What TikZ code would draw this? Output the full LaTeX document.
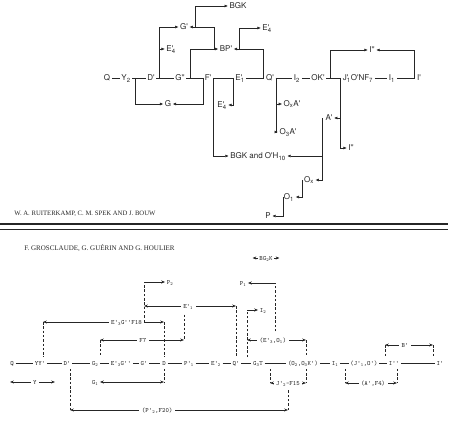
\documentclass[tikz,border=0pt]{standalone}
\usepackage{fontspec}
\usetikzlibrary{arrows.meta}
\newfontfamily\hsans{TeX Gyre Heros}
\newfontfamily\tms{Liberation Serif}
\newcommand{\pri}[2]{#1\rlap{'}\textsubscript{#2}}
\begin{document}
\begin{tikzpicture}[x=1pt,y=-1pt,line width=0.6pt,color=black!85,
  upnode/.style={font={\hsans\fontsize{8}{9}\selectfont},inner sep=1.5pt,text height=1.6ex,text depth=.3ex},
  lonode/.style={font={\ttfamily\fontsize{6.5}{7}\selectfont},inner sep=1.5pt,text height=1.6ex,text depth=.3ex},
  lbl/.style={lonode,fill=white,inner sep=2.5pt},
  uarrow/.style={-{Triangle[length=3.2pt,width=2.6pt]}},
  larrow/.style={-{Stealth[length=3.8pt,width=3pt]}},
  lboth/.style={{Stealth[length=3.8pt,width=3pt]}-{Stealth[length=3.8pt,width=3pt]}},
  dashv/.style={dash pattern=on 2.5pt off 1.8pt}]
\useasboundingbox (0,0) rectangle (450,422);

\node[upnode] (Q) at (107,78) {Q};
\node[upnode] (Y2) at (126,78) {Y\textsubscript{2}};
\node[upnode] (Dp) at (151,78) {D'};
\node[upnode] (Gpp) at (180,78) {G''};
\node[upnode] (Fp) at (208,78) {F'};
\node[upnode] (E1) at (240,78) {\pri{E}{1}};
\node[upnode] (Qp) at (270,78) {Q'};
\node[upnode] (I2) at (297,78) {I\textsubscript{2}};
\node[upnode] (OK) at (318,78) {OK'};
\node[upnode] (JO) at (358,78) {\pri{J}{1}O'NF\textsubscript{7}};
\node[upnode] (I1) at (392,78) {I\textsubscript{1}};
\node[upnode] (Ip) at (419,78) {I'};
\node[upnode] (BGK) at (238,6) {BGK};
\node[upnode] (Gp) at (184,27) {G'};
\node[upnode] (E4a) at (171,49) {\pri{E}{4}};
\node[upnode] (BP) at (226,49) {BP'};
\node[upnode] (E4b) at (267,28) {\pri{E}{4}};
\node[upnode] (G) at (168,104) {G};
\node[upnode] (E4c) at (222,105) {\pri{E}{4}};
\node[upnode] (Ia) at (372,50) {I''};
\node[upnode] (OxA) at (292,104) {O\textsubscript{x}A'};
\node[upnode] (O3A) at (288,132) {O\textsubscript{3}A'};
\node[upnode] (Ap) at (329,118) {A'};
\node[upnode] (Ib) at (351,148) {I''};
\node[upnode] (BGKO) at (258,156) {BGK and O'H\textsubscript{10}};
\node[upnode] (Ox) at (309,180) {O\textsubscript{x}};
\node[upnode] (O1) at (289,197) {O\textsubscript{1}};
\node[upnode] (P) at (268,216) {P};

\draw (Q) -- (Y2) -- (Dp) -- (Gpp) -- (Fp) -- (E1) -- (Qp) -- (I2) -- (OK) -- (JO) -- (I1) -- (Ip);
\coordinate (dj) at (159,78);
\coordinate (yj) at (135,78);
\coordinate (fj) at (203,78);
\coordinate (gj) at (190,78);
\coordinate (bj) at (214,49);
\coordinate (gk) at (195,27);
\coordinate (qj) at (263,78);
\coordinate (ej) at (239,49);
\coordinate (ek) at (233,78);
\coordinate (fk) at (213,78);
\coordinate (qk) at (276,78);
\coordinate (oj) at (330,78);
\coordinate (ij) at (414,78);
\coordinate (jj) at (340,78);
\coordinate (aj) at (322,118);
\coordinate (xj) at (302,180);
\coordinate (oi) at (283,197);
\draw[uarrow] (dj) |- (Gp);
\draw[uarrow] (dj |- E4a) -- (E4a);
\draw[uarrow] (yj) |- (G);
\draw[uarrow] (fj) |- (G);
\draw[uarrow] (gj) |- (BP);
\draw[uarrow] (bj) |- (Gp);
\draw[uarrow] (gk) |- (BGK);
\draw[uarrow] (qj) |- (BP);
\draw[uarrow] (ej) |- (E4b);
\draw[uarrow] (ek) |- (E4c);
\draw[uarrow] (fk) |- (BGKO);
\draw[uarrow] (qk) |- (O3A);
\draw[uarrow] (qk |- OxA) -- (OxA);
\draw[uarrow] (oj) |- (Ia);
\draw[uarrow] (ij) |- (Ia);
\draw[uarrow] (jj) |- (Ib);
\draw[uarrow] (jj |- Ap) -- (Ap);
\draw[uarrow] (aj) |- (Ox);
\draw[uarrow] (aj |- BGKO) -- (BGKO);
\draw[uarrow] (xj) |- (O1);
\draw[uarrow] (oi) |- (P);

\node[anchor=west,inner sep=0pt,font={\tms\fontsize{6.7}{8}\selectfont}] (au1) at (14,214) {W. A. RUITERKAMP, C. M. SPEK AND J. BOUW};
\draw[line width=1.6pt] (0,224) -- (448,224);
\draw[line width=0.8pt] (0,229.5) -- (448,229.5);
\node[anchor=west,inner sep=0pt,font={\tms\fontsize{7}{8}\selectfont}] (au2) at (24,248) {F. GROSCLAUDE, G. GUÉRIN AND G. HOULIER};

\node[lonode] (lQ) at (12,363) {Q};
\node[lonode] (lYY) at (40,363) {YY'};
\node[lonode] (lDp) at (67,363) {D'};
\node[lonode] (lG2) at (95,363) {G\textsubscript{2}};
\node[lonode] (lE3G) at (121,363) {E'\textsubscript{3}G''};
\node[lonode] (lGp) at (144,363) {G'};
\node[lonode] (lD) at (164,363) {D};
\node[lonode] (lP1p) at (189,363) {P'\textsubscript{1}};
\node[lonode] (lE2) at (216,363) {E'\textsubscript{2}};
\node[lonode] (lQp) at (236,363) {Q'};
\node[lonode] (lG3T) at (258,363) {G\textsubscript{3}T};
\node[lonode] (lO23) at (303,363) {(O\textsubscript{2},O\textsubscript{3}K')};
\node[lonode] (lI1) at (335,363) {I\textsubscript{1}};
\node[lonode] (lJO) at (364,363) {(J'\textsubscript{1},O')};
\node[lonode] (lIpp) at (394,363) {I''};
\node[lonode] (lIp) at (440,363) {I'};
\node[lonode] (lG1) at (95,382) {G\textsubscript{1}};
\node[lonode] (lP2) at (170,282) {P\textsubscript{2}};
\node[lonode] (lP1) at (243,283) {P\textsubscript{1}};
\node[lonode] (lI2) at (263,310) {I\textsubscript{2}};
\node[lonode] (lBGK) at (266,258) {BG\textsubscript{2}K};

\draw (lQ) -- (lYY) -- (lDp) -- (lG2) -- (lE3G) -- (lGp) -- (lD) -- (lP1p) -- (lE2) -- (lQp) -- (lG3T) -- (lO23) -- (lI1) -- (lJO) -- (lIpp) -- (lIp);

\coordinate (yl) at (10,382);
\coordinate (yr) at (55,382);
\coordinate (g1r) at (164,382);
\coordinate (f18l) at (43,322);
\coordinate (f18r) at (164,322);
\coordinate (p2j) at (144,322);
\coordinate (e1l) at (144,306);
\coordinate (e1r) at (236,306);
\coordinate (e1m) at (184,306);
\coordinate (f7l) at (100,340);
\coordinate (f7r) at (184,340);
\coordinate (f20l) at (70,410);
\coordinate (f20r) at (288,410);
\coordinate (f15l) at (270,383);
\coordinate (f15r) at (306,383);
\coordinate (eol) at (247,340);
\coordinate (eor) at (306,340);
\coordinate (p1j) at (275,340);
\coordinate (bl) at (385,345);
\coordinate (br) at (433,345);
\coordinate (afl) at (345,383);
\coordinate (afr) at (397,383);

\draw[dashv] (f18l) -- (f18l |- lYY.north);
\draw[dashv] (f18r) -- (lD.north);
\draw[dashv] (p2j) -- (p2j |- lP2);
\draw[larrow] (p2j |- lP2) -- (lP2);
\draw[dashv] (e1m) -- (f7r);
\draw[dashv] (e1r) -- (lQp.north);
\draw[dashv] (f7l) -- (f7l |- lG2.north);
\draw[dashv] (lD.south) -- (g1r);
\draw[dashv] (f20l |- lDp.south) -- (f20l);
\draw[dashv] (f20r) -- (f20r |- f15l);
\draw[dashv] (f15l |- lG3T.south) -- (f15l);
\draw[dashv] (f15r |- lO23.south) -- (f15r);
\draw[dashv] (eol |- lQp.north) -- (eol |- lI2);
\draw[larrow] (eol |- lI2) -- (lI2);
\draw[dashv] (eor) -- (eor |- lO23.north);
\draw[dashv] (p1j) -- (p1j |- lP1);
\draw[larrow] (p1j |- lP1) -- (lP1);
\draw[dashv] (bl) -- (bl |- lIpp.north);
\draw[dashv] (br) -- (br |- lIp.north);
\draw[dashv] (afl |- lJO.south) -- (afl);
\draw[dashv] (afr |- lIpp.south) -- (afr);

\draw[lboth] (yl) -- node[lbl,pos=.55] {Y} (yr);
\draw[lboth] (lG1) -- (g1r);
\draw[lboth] (f18l) -- node[lbl,pos=.69] {E'\textsubscript{3}G''F18} (f18r);
\draw[lboth] (e1l) -- node[lbl,pos=.48] {E'\textsubscript{1}} (e1r);
\draw[lboth] (f7l) -- node[lbl,pos=.51] {F7} (f7r);
\draw[lboth] (f20l) -- node[lbl,pos=.4] {(P'\textsubscript{2},F20)} (f20r);
\draw[lboth] (f15l) -- node[lbl] {J'\textsubscript{2}-F15} (f15r);
\draw[lboth] (eol) -- node[lbl,pos=.44] {(E'\textsubscript{3},O\textsubscript{1})} (eor);
\draw[lboth] (bl) -- node[lbl,pos=.42] {B'} (br);
\draw[lboth] (afl) -- node[lbl,pos=.54] {(A',F4)} (afr);
\draw[larrow] (lBGK.west) -- ++(-5,0);
\draw[larrow] (lBGK.east) -- ++(5,0);
\end{tikzpicture}
\end{document}
